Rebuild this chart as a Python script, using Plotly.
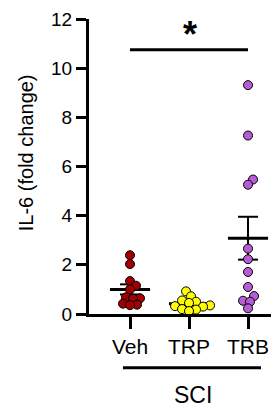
import numpy as np
import plotly.graph_objects as go

categories = ["Veh", "TRP", "TRB"]
veh = [2.39, 2.03, 1.34, 1.15, 1.0, 0.68, 0.64, 0.62, 0.42, 0.38, 0.36]
trp = [0.92, 0.72, 0.55, 0.5, 0.45, 0.35, 0.32, 0.3, 0.2, 0.18, 0.12]
trb = [9.31, 7.26, 5.47, 5.26, 2.66, 2.23, 1.71, 1.1, 0.73, 0.54, 0.5, 0.23]
colors = ["#A00000", "#FFFF00", "#B85CD6"]
y_ticks = [0, 2, 4, 6, 8, 10, 12]
group_label = "SCI"
y_title = "IL-6 (fold change)"

groups = [veh, trp, trb]

OFF = 8  # page body margin
W, H = 279 - OFF, 408 - OFF
ML, MR, MT, MB = 89 - OFF, 1, 17 - OFF, 94
XR = [-0.695, 2.508]
YR = [0, 12]
px_x = (W - ML - MR) / (XR[1] - XR[0])
px_y = (H - MT - MB) / (YR[1] - YR[0])
DC = 6.8  # collision distance for swarm, px (points overlap a little)


def swarm(vals):
    order = np.argsort(vals)
    placed = []
    offs = np.zeros(len(vals))
    cands = [0.0]
    for k in range(1, 60):
        cands += [k * 1.0, -k * 1.0]
    for i in order:
        yv = vals[i] * px_y
        for c in cands:
            ok = True
            for (px, py) in placed:
                if (px - c) ** 2 + (py - yv) ** 2 < DC ** 2:
                    ok = False
                    break
            if ok:
                offs[i] = c
                placed.append((c, yv))
                break
    return offs / px_x


fig = go.Figure()

for gi, vals in enumerate(groups):
    a = np.array(vals)
    m = a.mean()
    sem = a.std(ddof=1) / np.sqrt(len(a))
    fig.add_trace(go.Scatter(x=[gi - 0.34, gi + 0.34], y=[m, m], mode="lines",
                             line=dict(color="black", width=3), showlegend=False,
                             hoverinfo="skip", cliponaxis=False))
    fig.add_trace(go.Scatter(
        x=[gi, gi, None, gi - 0.17, gi + 0.17, None, gi - 0.17, gi + 0.17],
        y=[m - sem, m + sem, None, m + sem, m + sem, None, m - sem, m - sem],
        mode="lines", line=dict(color="black", width=2), showlegend=False,
        hoverinfo="skip", cliponaxis=False))

for gi, vals in enumerate(groups):
    offs = swarm(np.array(vals))
    fig.add_trace(go.Scatter(
        x=gi + offs, y=vals, mode="markers",
        marker=dict(size=9, color=colors[gi], line=dict(color="black", width=1)),
        showlegend=False, cliponaxis=False))

# significance bar
fig.add_shape(type="line", xref="x", yref="y", x0=0, x1=2, y0=10.75, y1=10.75,
              line=dict(color="black", width=3))
fig.add_annotation(x=1.017, y=0.948, xref="x", yref="paper", text="<b>*</b>",
                   showarrow=False, font=dict(size=36, color="black", family="Arial"),
                   xanchor="center", yanchor="middle")

# group bracket
fig.add_shape(type="line", xref="x", yref="paper", x0=-0.12, x1=2.22,
              y0=-0.182, y1=-0.182, line=dict(color="black", width=3))
fig.add_annotation(x=1.07, y=-0.273, xref="x", yref="paper", text=group_label,
                   showarrow=False, font=dict(size=23, color="black", family="Arial"),
                   xanchor="center", yanchor="middle")

# y title
fig.add_annotation(x=(26 - OFF - ML) / (W - ML - MR), y=0.545,
                   xref="paper", yref="paper", text=y_title, textangle=-90,
                   showarrow=False, font=dict(size=20, color="black", family="Arial"),
                   xanchor="center", yanchor="middle")

fig.update_layout(
    width=W, height=H,
    margin=dict(l=ML, r=MR, t=MT, b=MB, pad=0),
    plot_bgcolor="white", paper_bgcolor="white",
    font=dict(family="Arial", color="black"),
    xaxis=dict(range=XR, tickvals=[0, 1, 2], ticktext=categories,
               showline=True, linewidth=3, linecolor="black",
               ticks="outside", ticklen=12, tickwidth=2.5, tickcolor="black",
               tickfont=dict(size=21, color="black"), showgrid=False, zeroline=False,
               fixedrange=True, ticklabeloverflow="allow"),
    yaxis=dict(range=YR, tickvals=y_ticks, showline=True, linewidth=3, linecolor="black",
               ticks="outside", ticklen=10, tickwidth=2.5, tickcolor="black",
               tickfont=dict(size=19, color="black"), showgrid=False, zeroline=False,
               fixedrange=True, ticklabeloverflow="allow"),
)

fig.write_html("out.html")
